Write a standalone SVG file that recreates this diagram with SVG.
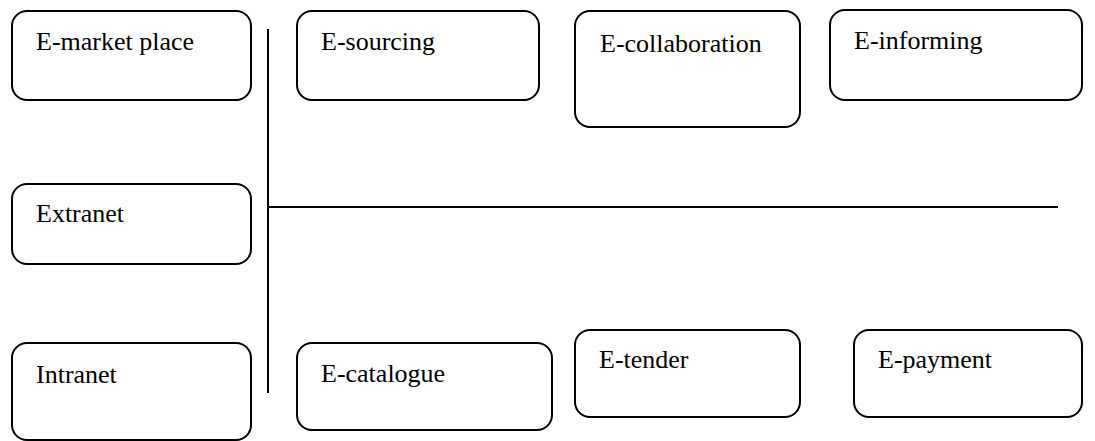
<svg xmlns="http://www.w3.org/2000/svg" width="1095" height="441" viewBox="0 0 1095 441">
<style>
.box{fill:#fff;stroke:#000;stroke-width:2}
.lbl{font-family:"Times New Roman","Liberation Serif",Tinos,"DejaVu Serif",serif;font-size:26px;fill:#000}
.ln{stroke:#000;stroke-width:2;fill:none}
</style>
<rect width="1095" height="441" fill="#fff"/>
<g id="connectors">
<line class="ln" x1="268" y1="29" x2="268" y2="393"/>
<line class="ln" x1="268" y1="207" x2="1058" y2="207"/>
</g>
<g id="n-emarket"><rect class="box" x="12" y="11" width="239" height="89" rx="15"/><text class="lbl" x="36" y="50">E-market place</text></g>
<g id="n-esourcing"><rect class="box" x="297" y="11" width="242" height="89" rx="15"/><text class="lbl" x="321" y="50">E-sourcing</text></g>
<g id="n-ecollab"><rect class="box" x="575" y="11" width="225" height="116" rx="15"/><text class="lbl" x="600" y="52">E-collaboration</text></g>
<g id="n-einforming"><rect class="box" x="830" y="10" width="252" height="90" rx="15"/><text class="lbl" x="854" y="49">E-informing</text></g>
<g id="n-extranet"><rect class="box" x="12" y="184" width="239" height="80" rx="15"/><text class="lbl" x="36" y="222">Extranet</text></g>
<g id="n-intranet"><rect class="box" x="12" y="343" width="239" height="97" rx="15"/><text class="lbl" x="36" y="383">Intranet</text></g>
<g id="n-ecatalogue"><rect class="box" x="297" y="343" width="255" height="87" rx="15"/><text class="lbl" x="321" y="382">E-catalogue</text></g>
<g id="n-etender"><rect class="box" x="575" y="330" width="225" height="87" rx="15"/><text class="lbl" x="599" y="368">E-tender</text></g>
<g id="n-epayment"><rect class="box" x="854" y="330" width="228" height="87" rx="15"/><text class="lbl" x="878" y="368">E-payment</text></g>
</svg>
